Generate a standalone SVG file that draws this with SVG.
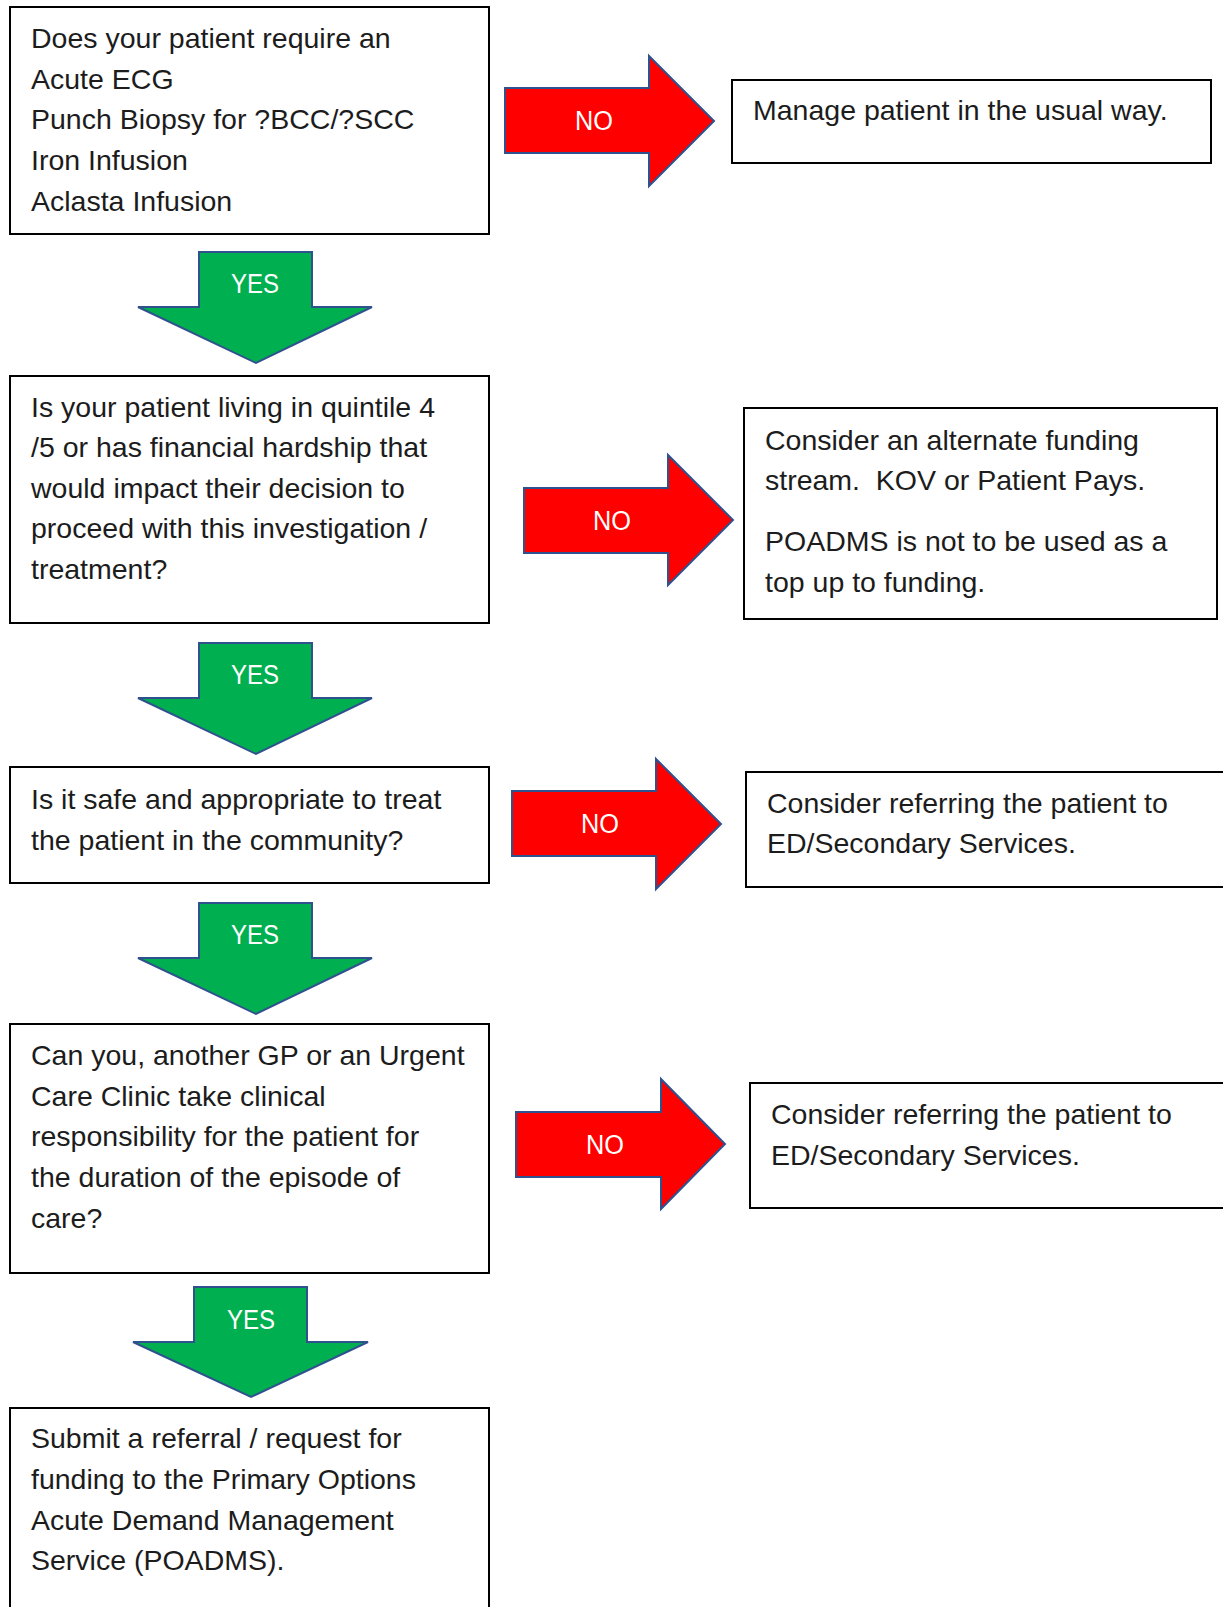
<svg xmlns="http://www.w3.org/2000/svg" width="1223" height="1607" viewBox="0 0 1223 1607">
<style>
.box{fill:#ffffff;stroke:#000000;stroke-width:2}
.t{font-family:"Liberation Sans",Arial,sans-serif;font-size:28.5px;fill:#1c1c1c}
.no{fill:#ff0000;stroke:#2f528f;stroke-width:2;stroke-linejoin:miter}
.yes{fill:#00b050;stroke:#2f528f;stroke-width:2;stroke-linejoin:miter}
.lbl{font-family:"Liberation Sans",Arial,sans-serif;font-size:27px;fill:#ffffff;text-anchor:middle}
</style>
<rect width="1223" height="1607" fill="#ffffff"/>
<g id="connectors">
  <g id="no1">
    <polygon class="no" points="505,88 649,88 649,56 714,121 649,186 649,153 505,153"/>
    <text class="lbl" x="594" y="130" textLength="38" lengthAdjust="spacingAndGlyphs">NO</text>
  </g>
  <g id="no2">
    <polygon class="no" points="524,488 668,488 668,455 733,520 668,585 668,553 524,553"/>
    <text class="lbl" x="612" y="530" textLength="38" lengthAdjust="spacingAndGlyphs">NO</text>
  </g>
  <g id="no3">
    <polygon class="no" points="512,791 656,791 656,759 721,824 656,889 656,856 512,856"/>
    <text class="lbl" x="600" y="833" textLength="38" lengthAdjust="spacingAndGlyphs">NO</text>
  </g>
  <g id="no4">
    <polygon class="no" points="516,1112 661,1112 661,1079 725,1144 661,1209 661,1177 516,1177"/>
    <text class="lbl" x="605" y="1154" textLength="38" lengthAdjust="spacingAndGlyphs">NO</text>
  </g>
  <g id="yes1">
    <polygon class="yes" points="199,252 312,252 312,307 372,307 256,363 138,307 199,307"/>
    <text class="lbl" x="255" y="293" textLength="48" lengthAdjust="spacingAndGlyphs">YES</text>
  </g>
  <g id="yes2">
    <polygon class="yes" points="199,643 312,643 312,698 372,698 256,754 138,698 199,698"/>
    <text class="lbl" x="255" y="684" textLength="48" lengthAdjust="spacingAndGlyphs">YES</text>
  </g>
  <g id="yes3">
    <polygon class="yes" points="199,903 312,903 312,958 372,958 256,1014 138,958 199,958"/>
    <text class="lbl" x="255" y="944" textLength="48" lengthAdjust="spacingAndGlyphs">YES</text>
  </g>
  <g id="yes4">
    <polygon class="yes" points="194,1287 307,1287 307,1342 368,1342 251,1397 133,1342 194,1342"/>
    <text class="lbl" x="251" y="1329" textLength="48" lengthAdjust="spacingAndGlyphs">YES</text>
  </g>
</g>
<g id="q1">
  <rect class="box" x="10" y="7" width="479" height="227"/>
  <text class="t" x="31" y="48">Does your patient require an</text>
  <text class="t" x="31" y="89">Acute ECG</text>
  <text class="t" x="31" y="129">Punch Biopsy for ?BCC/?SCC</text>
  <text class="t" x="31" y="170">Iron Infusion</text>
  <text class="t" x="31" y="211">Aclasta Infusion</text>
</g>
<g id="r1">
  <rect class="box" x="732" y="80" width="479" height="83"/>
  <text class="t" x="753" y="120">Manage patient in the usual way.</text>
</g>
<g id="q2">
  <rect class="box" x="10" y="376" width="479" height="247"/>
  <text class="t" x="31" y="417">Is your patient living in quintile 4</text>
  <text class="t" x="31" y="457">/5 or has financial hardship that</text>
  <text class="t" x="31" y="498">would impact their decision to</text>
  <text class="t" x="31" y="538">proceed with this investigation /</text>
  <text class="t" x="31" y="579">treatment?</text>
</g>
<g id="r2">
  <rect class="box" x="744" y="408" width="473" height="211"/>
  <text class="t" x="765" y="450">Consider an alternate funding</text>
  <text class="t" x="765" y="490" xml:space="preserve">stream.  KOV or Patient Pays.</text>
  <text class="t" x="765" y="551">POADMS is not to be used as a</text>
  <text class="t" x="765" y="592">top up to funding.</text>
</g>
<g id="q3">
  <rect class="box" x="10" y="767" width="479" height="116"/>
  <text class="t" x="31" y="809">Is it safe and appropriate to treat</text>
  <text class="t" x="31" y="850">the patient in the community?</text>
</g>
<g id="r3">
  <rect class="box" x="746" y="772" width="490" height="115"/>
  <text class="t" x="767" y="813">Consider referring the patient to</text>
  <text class="t" x="767" y="853">ED/Secondary Services.</text>
</g>
<g id="q4">
  <rect class="box" x="10" y="1024" width="479" height="249"/>
  <text class="t" x="31" y="1065">Can you, another GP or an Urgent</text>
  <text class="t" x="31" y="1106">Care Clinic take clinical</text>
  <text class="t" x="31" y="1146">responsibility for the patient for</text>
  <text class="t" x="31" y="1187">the duration of the episode of</text>
  <text class="t" x="31" y="1228">care?</text>
</g>
<g id="r4">
  <rect class="box" x="750" y="1083" width="490" height="125"/>
  <text class="t" x="771" y="1124">Consider referring the patient to</text>
  <text class="t" x="771" y="1165">ED/Secondary Services.</text>
</g>
<g id="end">
  <rect class="box" x="10" y="1408" width="479" height="215"/>
  <text class="t" x="31" y="1448">Submit a referral / request for</text>
  <text class="t" x="31" y="1489">funding to the Primary Options</text>
  <text class="t" x="31" y="1530">Acute Demand Management</text>
  <text class="t" x="31" y="1570">Service (POADMS).</text>
</g>
</svg>
